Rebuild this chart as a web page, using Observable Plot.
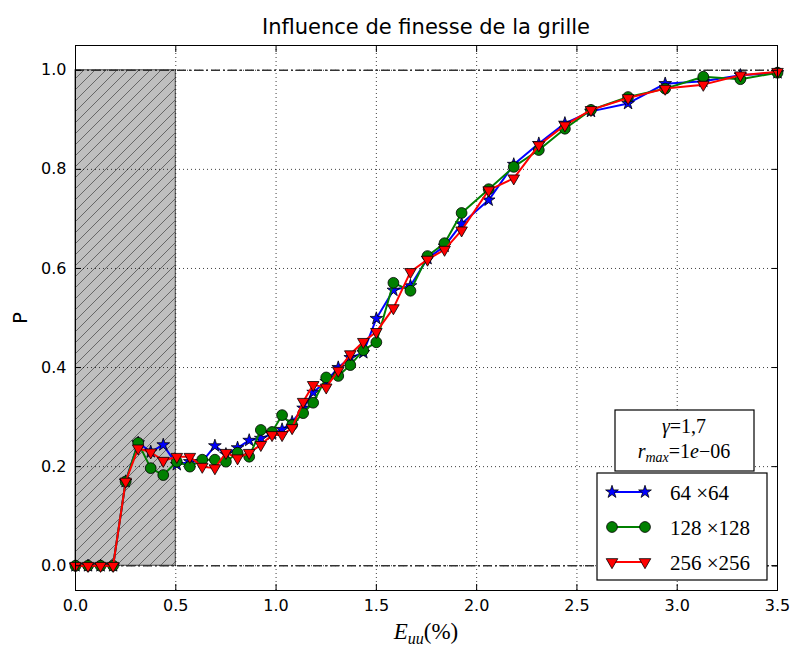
<!DOCTYPE html>
<html><head><meta charset="utf-8">
<script src="https://cdn.jsdelivr.net/npm/d3@7"></script>
<script src="https://cdn.jsdelivr.net/npm/@observablehq/plot@0.6"></script>
<style>body{margin:0;background:#fff;} svg{display:block}</style>
</head><body><div id="chart"></div>
<script>
// ---- data ----
const strain = [0, 0.0625, 0.125, 0.1875, 0.25, 0.3125, 0.375, 0.4375, 0.505, 0.57, 0.632, 0.695, 0.75, 0.808, 0.866, 0.924, 0.98, 1.03, 1.08, 1.135, 1.185, 1.25, 1.31, 1.37, 1.435, 1.5, 1.585, 1.67, 1.755, 1.84, 1.925, 2.06, 2.185, 2.31, 2.44, 2.57, 2.755, 2.94, 3.13, 3.315, 3.5];
const p64  = [0, 0, 0, 0, 0.17, 0.248, 0.23, 0.244, 0.204, 0.21, 0.21, 0.242, 0.225, 0.238, 0.253, 0.257, 0.266, 0.275, 0.29, 0.318, 0.35, 0.372, 0.40, 0.42, 0.43, 0.499, 0.556, 0.565, 0.62, 0.645, 0.69, 0.738, 0.81, 0.852, 0.893, 0.917, 0.933, 0.973, 0.978, 0.99, 0.995];
const p128 = [0, 0, 0, 0, 0.17, 0.248, 0.197, 0.183, 0.21, 0.20, 0.214, 0.214, 0.21, 0.228, 0.22, 0.274, 0.27, 0.304, 0.284, 0.308, 0.329, 0.38, 0.383, 0.405, 0.435, 0.451, 0.571, 0.555, 0.625, 0.651, 0.712, 0.76, 0.805, 0.839, 0.882, 0.92, 0.946, 0.963, 0.987, 0.982, 0.995];
const p256 = [0, 0, 0, 0, 0.17, 0.237, 0.229, 0.212, 0.22, 0.22, 0.20, 0.197, 0.228, 0.217, 0.228, 0.244, 0.264, 0.264, 0.278, 0.331, 0.365, 0.36, 0.394, 0.427, 0.452, 0.472, 0.52, 0.593, 0.618, 0.638, 0.677, 0.758, 0.782, 0.849, 0.889, 0.92, 0.944, 0.963, 0.971, 0.99, 0.997];
const seriesNames = ["64 ×64", "128 ×128", "256 ×256"];
const seriesColors = ["#0000ff", "#008000", "#ff0000"];
const xTicks = [0, 0.5, 1.0, 1.5, 2.0, 2.5, 3.0, 3.5];
const yTicks = [0, 0.2, 0.4, 0.6, 0.8, 1.0];
const shadedZone = [{x1: 0, x2: 0.5, y1: 0, y2: 1}];
const refLevels = [0, 1];
const titleText = "Influence de finesse de la grille";
const yLabel = "P";
const gammaValue = "1,7";
const rmaxValue = "1";
const rmaxExp = "−06";

// ---- symbols ----
const triangleDown = {
  draw(context, size) {
    const y = -Math.sqrt(size / (Math.sqrt(3) * 3));
    const s3 = Math.sqrt(3);
    context.moveTo(0, -y * 2);
    context.lineTo(-s3 * y, y);
    context.lineTo(s3 * y, y);
    context.closePath();
  }
};
const symbols = [d3.symbolStar, d3.symbolCircle, triangleDown];
const radii = [4.0, 5.4, 4.3];

const seriesValues = [p64, p128, p256];
const tables = seriesValues.map((vals, k) => strain.map((x, i) => ({x, y: vals[i], s: seriesNames[k]})));

const seriesMarks = tables.flatMap((t, k) => [
  Plot.line(t, {x: "x", y: "y", stroke: seriesColors[k], strokeWidth: 2}),
  Plot.dot(t, {x: "x", y: "y", fill: seriesColors[k], stroke: "black", strokeWidth: 0.8, symbol: symbols[k], r: radii[k]})
]);

const noText = () => "";
const chart = Plot.plot({
  width: 792, height: 646,
  marginLeft: 75, marginRight: 15, marginTop: 45, marginBottom: 56,
  style: {fontFamily: "'DejaVu Sans', sans-serif", fontSize: "16px", background: "white", color: "black"},
  x: {domain: [0, 3.5], label: null},
  y: {domain: [-0.05, 1.05], label: null},
  marks: [
    Plot.rect(shadedZone, {x1: "x1", x2: "x2", y1: "y1", y2: "y2", fill: "#bfbfbf", stroke: "#4a4a4a", strokeWidth: 1}),
    Plot.rect(shadedZone, {x1: "x1", x2: "x2", y1: "y1", y2: "y2", fill: "url(#hatch)"}),
    Plot.gridX(xTicks, {stroke: "#000", strokeOpacity: 0.75, strokeDasharray: "1,3"}),
    Plot.gridY(yTicks, {stroke: "#000", strokeOpacity: 0.75, strokeDasharray: "1,3"}),
    Plot.ruleY(refLevels, {stroke: "#333", strokeWidth: 1.5, strokeDasharray: "9,3,2,3"}),
    ...seriesMarks,
    Plot.frame({stroke: "black", strokeWidth: 1}),
    Plot.axisX(xTicks, {anchor: "bottom", tickSize: -6, tickFormat: noText, label: null}),
    Plot.axisX(xTicks, {anchor: "top", tickSize: -6, tickFormat: noText, label: null}),
    Plot.axisY(yTicks, {anchor: "left", tickSize: -6, tickFormat: noText, label: null}),
    Plot.axisY(yTicks, {anchor: "right", tickSize: -6, tickFormat: noText, label: null}),
    Plot.axisX(xTicks, {anchor: "bottom", tickSize: 0, tickPadding: 9, tickFormat: d3.format(".1f"), label: null}),
    Plot.axisY(yTicks, {anchor: "left", tickSize: 0, tickPadding: 9, tickFormat: d3.format(".1f"), label: null})
  ]
});
document.getElementById("chart").appendChild(chart);

// ---- decorations ----
const svg = d3.select(chart);
const defs = svg.insert("defs", ":first-child");
const pat = defs.append("pattern").attr("id", "hatch").attr("patternUnits", "userSpaceOnUse")
  .attr("width", 11).attr("height", 11);
pat.append("path").attr("d", "M-2,2 L2,-2 M0,11 L11,0 M9,13 L13,9")
  .attr("stroke", "#5e5e5e").attr("stroke-width", 0.9).attr("fill", "none");

svg.append("text").attr("x", 426).attr("y", 34).attr("text-anchor", "middle")
  .style("font-family", "'DejaVu Sans', sans-serif").style("font-size", "21px").text(titleText);

svg.append("text").attr("transform", "translate(27,318) rotate(-90)").attr("text-anchor", "middle")
  .style("font-family", "'DejaVu Sans', sans-serif").style("font-size", "20px").text(yLabel);

const serif = "'Liberation Serif', 'DejaVu Serif', serif";
const xl = svg.append("text").attr("x", 426).attr("y", 639).attr("text-anchor", "middle")
  .style("font-family", serif).style("font-size", "23px");
xl.append("tspan").style("font-style", "italic").text("E");
xl.append("tspan").style("font-style", "italic").style("font-size", "16px").attr("dy", 5).text("uu");
xl.append("tspan").attr("dy", -5).text("(%)");

// annotation box
svg.append("rect").attr("x", 615).attr("y", 410).attr("width", 139).attr("height", 61)
  .attr("fill", "white").attr("stroke", "black").attr("stroke-width", 1.2);
const t1 = svg.append("text").attr("x", 684).attr("y", 433).attr("text-anchor", "middle")
  .style("font-family", serif).style("font-size", "20px");
t1.append("tspan").style("font-style", "italic").text("γ");
t1.append("tspan").text("=" + gammaValue);
const t2 = svg.append("text").attr("x", 684).attr("y", 458).attr("text-anchor", "middle")
  .style("font-family", serif).style("font-size", "20px");
t2.append("tspan").style("font-style", "italic").text("r");
t2.append("tspan").style("font-style", "italic").style("font-size", "14px").attr("dy", 4).text("max");
t2.append("tspan").attr("dy", -4).text("=" + rmaxValue);
t2.append("tspan").style("font-style", "italic").text("e");
t2.append("tspan").text(rmaxExp);

// legend
svg.append("rect").attr("x", 597).attr("y", 473).attr("width", 170).attr("height", 107)
  .attr("fill", "white").attr("stroke", "black").attr("stroke-width", 1.2);
seriesNames.forEach((name, k) => {
  const yy = 492 + k * 35;
  svg.append("line").attr("x1", 612).attr("x2", 645).attr("y1", yy).attr("y2", yy)
    .attr("stroke", seriesColors[k]).attr("stroke-width", 2);
  [612, 645].forEach(xx => {
    svg.append("path").attr("transform", `translate(${xx},${yy})`)
      .attr("d", d3.symbol(symbols[k], Math.PI * radii[k] * radii[k])())
      .attr("fill", seriesColors[k]).attr("stroke", "black").attr("stroke-width", 0.8);
  });
  svg.append("text").attr("x", 670).attr("y", yy + 8).attr("text-anchor", "start")
    .style("font-family", serif).style("font-size", "21px").text(name);
});
</script>
</body></html>
